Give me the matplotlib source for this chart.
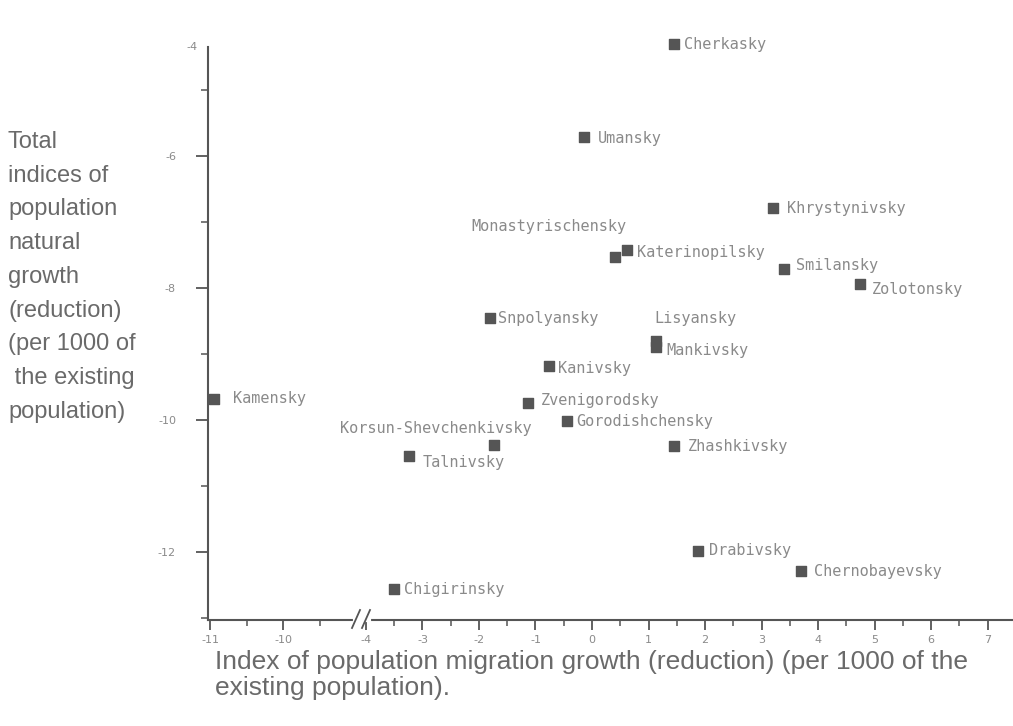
import matplotlib.pyplot as plt
import numpy as np

plt.rcParams["axes.unicode_minus"] = False

# district data: migration growth (x) vs natural growth (y), per 1000
districts = ["Cherkasky", "Umansky", "Khrystynivsky", "Monastyrischensky",
             "Katerinopilsky", "Smilansky", "Zolotonsky", "Snpolyansky",
             "Lisyansky", "Mankivsky", "Kanivsky", "Zvenigorodsky",
             "Gorodishchensky", "Korsun-Shevchenkivsky", "Zhashkivsky",
             "Talnivsky", "Drabivsky", "Chernobayevsky", "Chigirinsky"]
migration = [1.45, -0.14, 3.20, 0.41, 0.62, 3.40, 4.74, -1.80, 1.13, 1.13,
             -0.76, -1.13, -0.44, -1.73, 1.45, -3.24, 1.88, 3.70, -3.50]
natural = [-4.30, -5.72, -6.79, -7.53, -7.43, -7.71, -7.94, -8.45, -8.80,
           -8.90, -9.18, -9.74, -10.02, -10.38, -10.40, -10.55, -11.98,
           -12.29, -12.56]

# Kamensky sits on the far side of the axis break
far_name = "Kamensky"
far_migration = -10.95
far_natural = -9.68

# label offsets in pixels (dx, dy, ha)
offsets = {
    "Cherkasky": (10, -1, "left"), "Umansky": (14, -1, "left"),
    "Khrystynivsky": (14, 0, "left"), "Monastyrischensky": (-66, 30, "center"),
    "Katerinopilsky": (10, -2, "left"), "Smilansky": (12, 3, "left"),
    "Zolotonsky": (12, -6, "left"), "Snpolyansky": (8, -1, "left"),
    "Lisyansky": (40, 22, "center"), "Mankivsky": (11, -3, "left"),
    "Kanivsky": (9, -3, "left"), "Zvenigorodsky": (13, 2, "left"),
    "Gorodishchensky": (9, 0, "left"), "Korsun-Shevchenkivsky": (-58, 17, "center"),
    "Zhashkivsky": (14, 0, "left"), "Talnivsky": (14, -6, "left"),
    "Drabivsky": (11, 0, "left"), "Chernobayevsky": (13, 0, "left"),
    "Chigirinsky": (10, -1, "left"),
}

ylo, yhi = -13.03, -4.35
axis_col = "#555555"
lab_col = "#8a8a8a"
mark_col = "#555555"
txt_col = "#6a6a6a"

fig = plt.figure(figsize=(10.13, 7.26), dpi=100)
bottom = 1 - 620 / 726
height = (620 - 47) / 726
axl = fig.add_axes([208 / 1013, bottom, 152 / 1013, height])
axr = fig.add_axes([362 / 1013, bottom, 651 / 1013, height], sharey=axl)

for ax in (axl, axr):
    ax.set_facecolor("none")
    for s in ["top", "right"]:
        ax.spines[s].set_visible(False)
    ax.spines["bottom"].set_color(axis_col)
    ax.spines["bottom"].set_linewidth(1.5)
    ax.tick_params(axis="x", direction="out", length=7, width=1.3, color=axis_col,
                   labelsize=8, labelcolor=lab_col, pad=4)
    ax.tick_params(axis="x", which="minor", direction="out", length=4, width=1.1,
                   color=axis_col)

axr.spines["left"].set_visible(False)
axr.tick_params(axis="y", which="both", left=False, labelleft=False)
axl.spines["left"].set_color(axis_col)
axl.spines["left"].set_linewidth(1.5)
axl.tick_params(axis="y", direction="out", length=9, width=1.3, color=axis_col,
                labelsize=8, labelcolor=lab_col, pad=14)
axl.tick_params(axis="y", which="minor", direction="out", length=5, width=1.1,
                color=axis_col)

axl.set_ylim(ylo, yhi)
axl.set_yticks([-12, -10, -8, -6])
axl.set_yticks([-13, -11, -9, -7, -5], minor=True)
axl.text(-0.07, 1.0, "-4", transform=axl.transAxes, ha="right", va="center",
         fontsize=8, color=lab_col)

axl.set_xlim(-11.03, -8.95)
axl.set_xticks([-11, -10])
axl.set_xticks([-10.5, -9.5], minor=True)
axr.set_xlim(-4.07, 7.45)
axr.set_xticks(np.arange(-4, 8))
axr.set_xticks(np.arange(-3.5, 7.5, 1.0), minor=True)

# points
axr.scatter(migration, natural, marker="s", s=58, color=mark_col, zorder=3,
            clip_on=False)
axl.scatter([far_migration], [far_natural], marker="s", s=58, color=mark_col,
            zorder=3, clip_on=False)

for name, x, y in zip(districts, migration, natural):
    dx, dy, ha = offsets[name]
    axr.annotate(name, (x, y), xytext=(dx, dy), textcoords="offset pixels",
                 ha=ha, va="center", fontsize=11, color=lab_col,
                 family="DejaVu Sans Mono", annotation_clip=False)
axl.annotate(far_name, (far_migration, far_natural), xytext=(19, 0),
             textcoords="offset pixels", ha="left", va="center", fontsize=11,
             color=lab_col, family="DejaVu Sans Mono", annotation_clip=False)

# axis break marks
fig.add_artist(plt.Line2D([355 / 1013, 369 / 1013], [bottom, bottom],
                          color="white", lw=3, zorder=5))
for x0 in (352, 362):
    fig.add_artist(plt.Line2D([x0 / 1013, (x0 + 8) / 1013],
                              [1 - 628 / 726, 1 - 610 / 726],
                              color=axis_col, lw=1.3, zorder=6))

fig.text(8 / 1013, 1 - 131 / 726,
         "Total\nindices of\npopulation\nnatural\ngrowth\n(reduction)\n"
         "(per 1000 of\n the existing\npopulation)",
         ha="left", va="top", fontsize=17, color=txt_col,
         family="Liberation Sans", linespacing=1.69)
fig.text(215 / 1013, 1 - 650 / 726,
         "Index of population migration growth (reduction) (per 1000 of the\n"
         "existing population).",
         ha="left", va="top", fontsize=19, color=txt_col,
         family="Liberation Sans", linespacing=1.1)

fig.savefig("out.png", dpi=100)
